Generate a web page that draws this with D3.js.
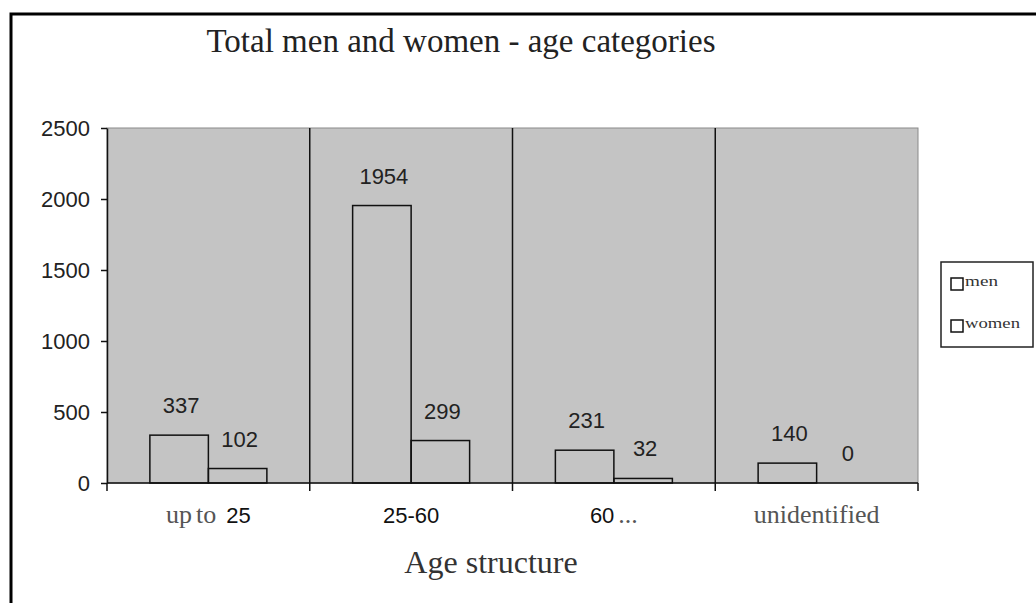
<!DOCTYPE html>
<html>
<head>
<meta charset="utf-8">
<script src="https://cdn.jsdelivr.net/npm/d3@7"></script>
<style>
  body { margin: 0; background: #fff; }
  svg { display: block; }
</style>
</head>
<body>
<svg id="chart" width="1036" height="603"></svg>
<script>
const categories = ["up to 25", "25-60", "60 ...", "unidentified"];
const seriesNames = ["men", "women"];
const men = [337, 1954, 231, 140];
const women = [102, 299, 32, 0];
const yTicks = [0, 500, 1000, 1500, 2000, 2500];

const serif = "'Liberation Serif', 'DejaVu Serif', serif";
const sans = "'Liberation Sans', Arial, sans-serif";

const svg = d3.select("#chart");
const margin = { left: 107, right: 118, top: 128, bottom: 120 };
const plotW = 1036 - margin.left - margin.right;
const plotH = 603 - margin.top - margin.bottom;

// outer frame (only top and left edges visible in the picture)
svg.append("path")
  .attr("d", "M11,603 L11,14 L1036,14")
  .attr("fill", "none")
  .attr("stroke", "#000")
  .attr("stroke-width", 3);

svg.append("text")
  .attr("x", 461).attr("y", 52)
  .attr("text-anchor", "middle")
  .style("font-family", serif)
  .style("font-size", "33px")
  .attr("fill", "#222")
  .text("Total men and women - age categories");

const g = svg.append("g").attr("transform", `translate(${margin.left},${margin.top})`);

const x = d3.scaleBand().domain(categories).range([0, plotW]).padding(0);
const xs = d3.scaleBand().domain(seriesNames).range([0, x.bandwidth()]).paddingInner(0).paddingOuter(0.733);
const y = d3.scaleLinear().domain([0, 2500]).range([plotH, 0]);

// plot background
g.append("rect")
  .attr("width", plotW).attr("height", plotH)
  .attr("fill", "#c4c4c4")
  .attr("stroke", "#8a8a8a")
  .attr("stroke-width", 1);

// category separators
g.selectAll(".sep")
  .data(categories.slice(1))
  .join("line")
  .attr("class", "sep")
  .attr("x1", d => x(d)).attr("x2", d => x(d))
  .attr("y1", 0).attr("y2", plotH)
  .attr("stroke", "#111")
  .attr("stroke-width", 1.5);

// bars
const rows = categories.map((c, i) => ({ cat: c, values: [men[i], women[i]] }));
const grp = g.selectAll(".grp")
  .data(rows)
  .join("g")
  .attr("class", "grp")
  .attr("transform", d => `translate(${x(d.cat)},0)`);

grp.selectAll("rect")
  .data(d => d.values.map((v, j) => ({ key: seriesNames[j], v })))
  .join("rect")
  .attr("x", d => xs(d.key))
  .attr("y", d => y(d.v))
  .attr("width", xs.bandwidth())
  .attr("height", d => plotH - y(d.v))
  .attr("fill", "none")
  .attr("stroke", "#111")
  .attr("stroke-width", 1.5);

grp.selectAll(".val")
  .data(d => d.values.map((v, j) => ({ key: seriesNames[j], v })))
  .join("text")
  .attr("class", "val")
  .attr("x", d => xs(d.key) + xs.bandwidth() / 2 + 2)
  .attr("y", d => y(d.v) - 22)
  .attr("text-anchor", "middle")
  .style("font-family", sans)
  .style("font-size", "22px")
  .attr("fill", "#222")
  .text(d => d.v);

// y axis
const yAxis = g.append("g")
  .call(d3.axisLeft(y).tickValues(yTicks).tickFormat(d3.format("d")).tickSize(6).tickSizeOuter(0).tickPadding(11));
yAxis.select(".domain").attr("stroke", "#111").attr("stroke-width", 1.5);
yAxis.selectAll(".tick line").attr("stroke", "#111").attr("stroke-width", 1.5);
yAxis.selectAll(".tick text")
  .style("font-family", sans)
  .style("font-size", "22px")
  .attr("fill", "#222");

// x axis: line plus ticks at category boundaries
const xAxis = g.append("g").attr("transform", `translate(0,${plotH})`);
xAxis.append("line")
  .attr("x1", 0).attr("x2", plotW)
  .attr("stroke", "#111").attr("stroke-width", 1.5);
const bounds = categories.map(c => x(c)).concat([plotW]);
xAxis.selectAll(".xt")
  .data(bounds)
  .join("line")
  .attr("class", "xt")
  .attr("x1", d => d).attr("x2", d => d)
  .attr("y1", 0).attr("y2", 8)
  .attr("stroke", "#111").attr("stroke-width", 1.5);

// category labels: numbers in sans, words in serif
const lbl = xAxis.selectAll(".xl")
  .data(categories)
  .join("text")
  .attr("class", "xl")
  .attr("x", d => x(d) + x.bandwidth() / 2)
  .attr("y", 40)
  .attr("text-anchor", "middle")
  .attr("fill", "#222");
lbl.each(function (d) {
  const t = d3.select(this);
  const parts = d.split(" ");
  parts.forEach((p, k) => {
    const isNum = /^[\d-]+$/.test(p);
    t.append("tspan")
      .attr("dx", k > 0 ? (isNum ? 10 : 4) : 0)
      .style("font-family", isNum ? sans : serif)
      .style("font-size", isNum ? "22px" : "26px")
      .attr("fill", isNum ? "#111" : "#555")
      .text(p);
  });
});

svg.append("text")
  .attr("x", 491).attr("y", 573)
  .attr("text-anchor", "middle")
  .style("font-family", serif)
  .style("font-size", "32px")
  .attr("fill", "#333")
  .text("Age structure");

// legend
const legend = svg.append("g").attr("transform", "translate(941,262)");
legend.append("rect")
  .attr("width", 92).attr("height", 85)
  .attr("fill", "#fff")
  .attr("stroke", "#222").attr("stroke-width", 1.5);
const li = legend.selectAll(".li")
  .data(seriesNames)
  .join("g")
  .attr("class", "li")
  .attr("transform", (d, i) => `translate(10,${16 + i * 42})`);
li.append("rect")
  .attr("width", 12).attr("height", 12)
  .attr("fill", "#fff")
  .attr("stroke", "#111").attr("stroke-width", 1.5);
li.append("text")
  .attr("x", 14).attr("y", 8)
  .attr("textLength", d => d.length * 11)
  .attr("lengthAdjust", "spacingAndGlyphs")
  .style("font-family", serif)
  .style("font-size", "15px")
  .attr("fill", "#333")
  .text(d => d);
</script>
</body>
</html>
